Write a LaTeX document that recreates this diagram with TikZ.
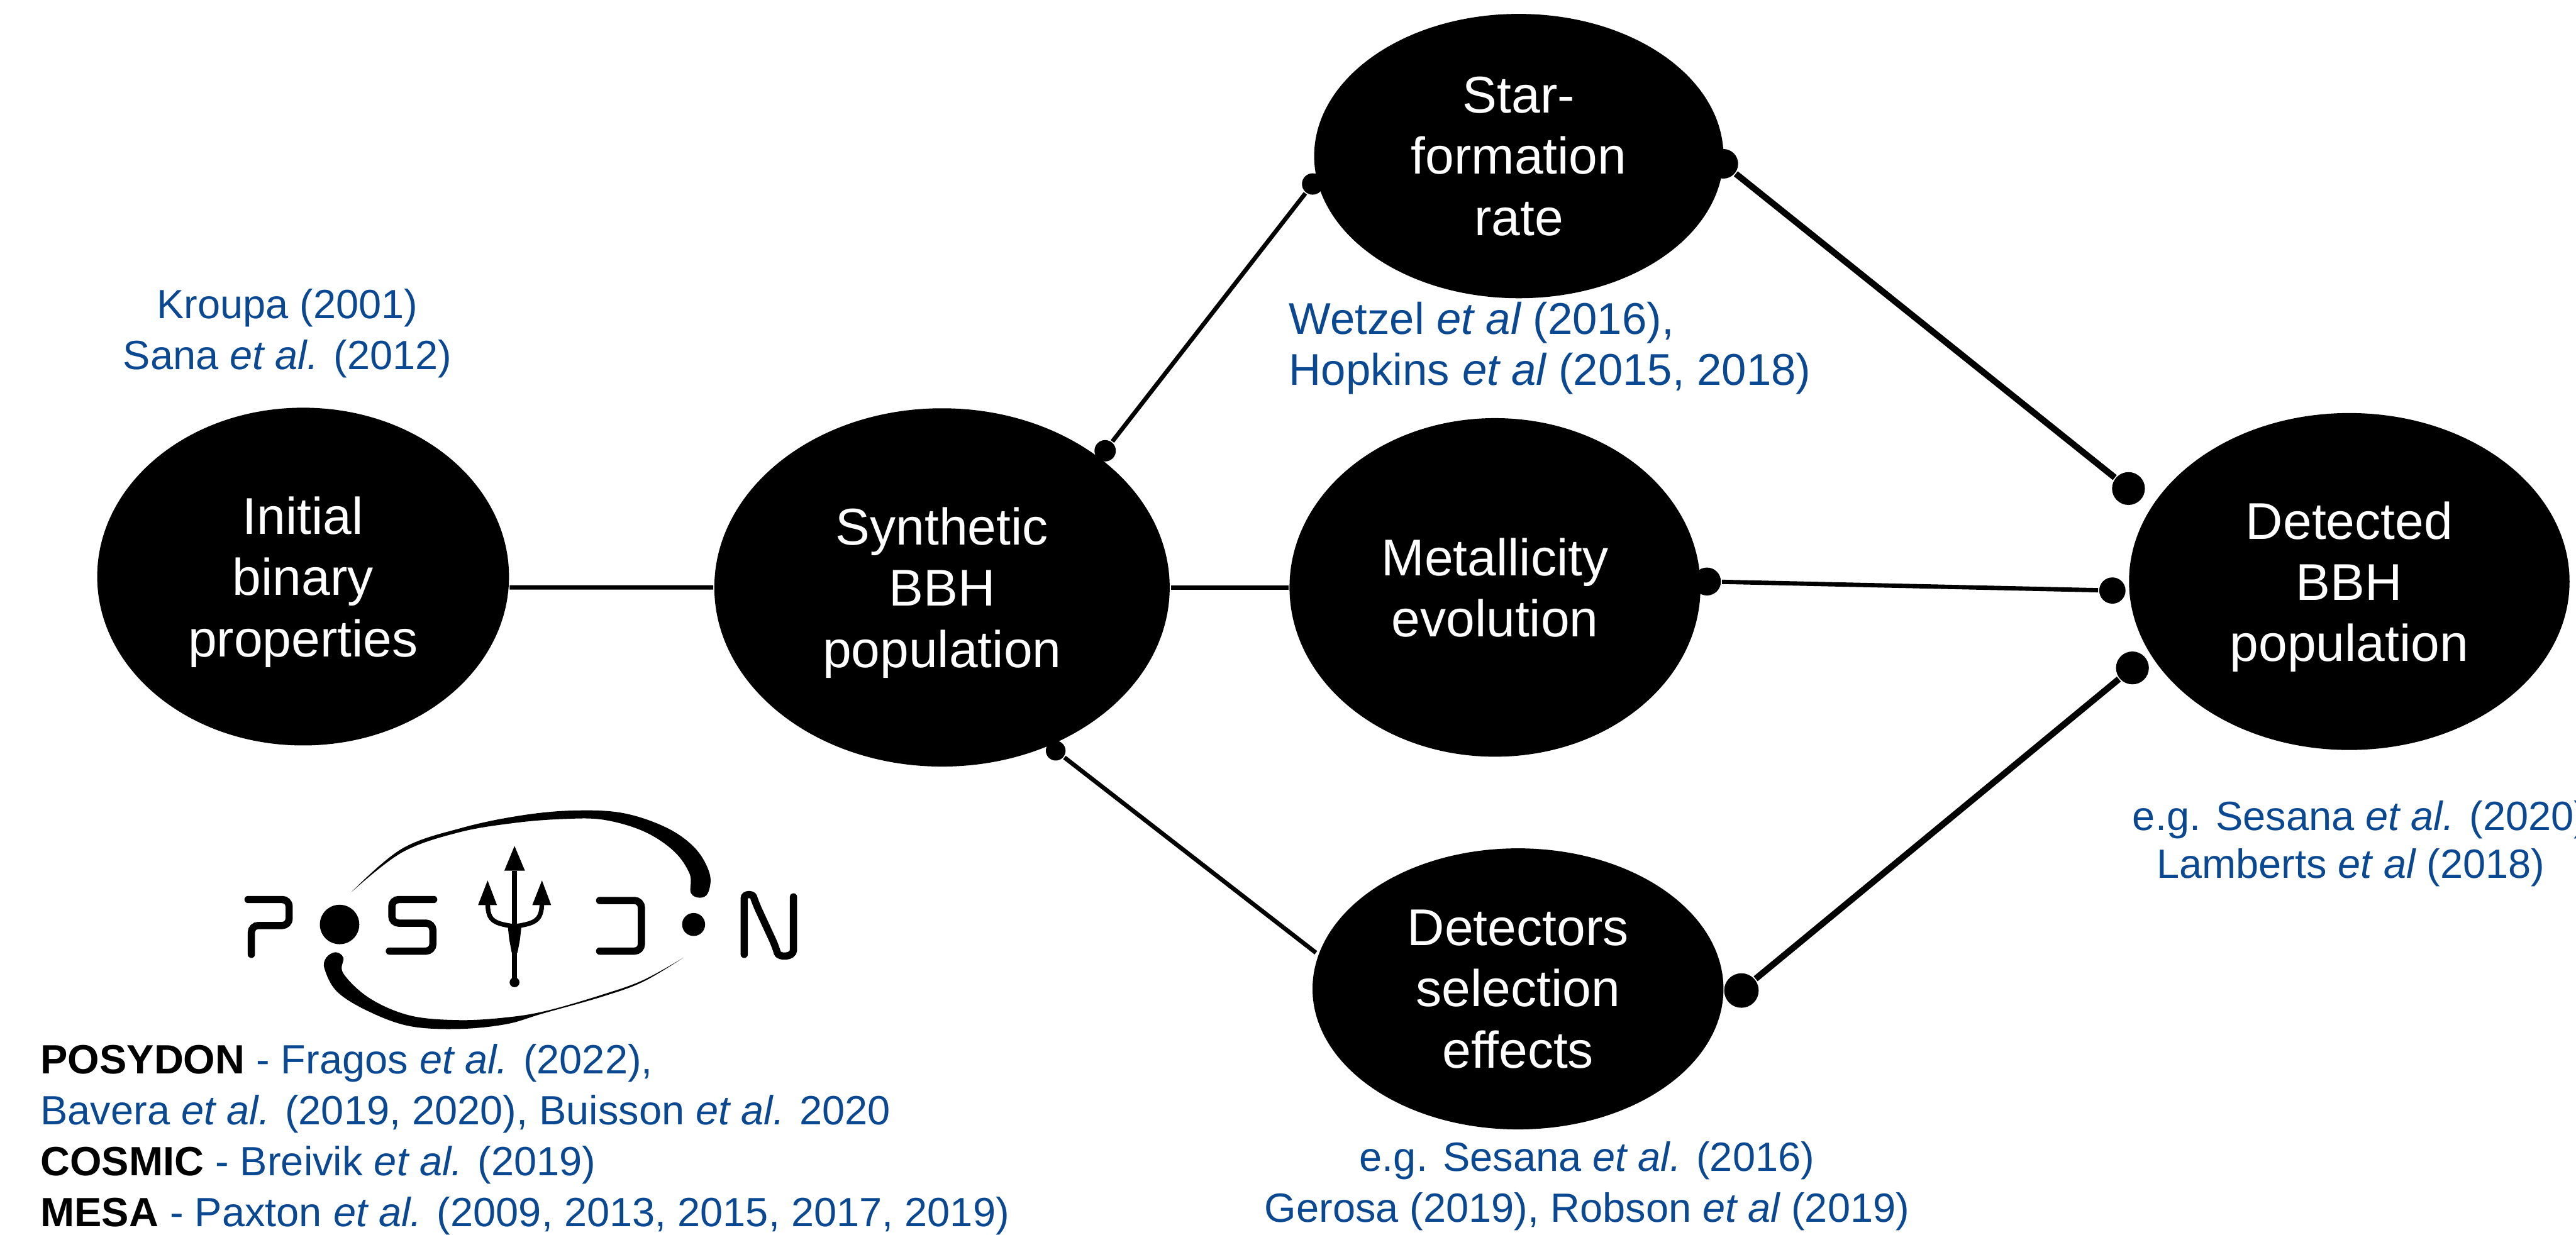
\documentclass[tikz,border=0pt]{standalone}
\usepackage{xcolor}
\usepackage{fontspec}
\setmainfont{Liberation Sans}
\usetikzlibrary{shapes.geometric, arrows.meta, positioning}
\definecolor{citeblue}{RGB}{10,72,145}

\begin{document}
\begin{tikzpicture}[
    x=0.01cm, y=-0.01cm,
    stage/.style={ellipse, fill=black, text=white, inner sep=0pt, align=center, text depth=0pt, font=\fontsize{8.95}{10.6}\selectfont},
    cite/.style={text=citeblue, inner sep=0pt, font=\fontsize{7.07}{8.8}\selectfont},
    link/.style={draw=black, line width=0.75pt},
    heavylink/.style={draw=black, line width=1.1pt},
    dot/.style={circle, fill=black, inner sep=0pt, minimum size=#1*0.01cm},
    logoline/.style={line width=1.25pt, line cap=round, rounded corners=1.2pt}
]
    \useasboundingbox (0,0) rectangle (1568,751.7);

    % Stages
    \node[stage, minimum width=2.505cm, minimum height=2.055cm] (initial) at (184.5,351) {Initial\\binary\\properties};
    \node[stage, minimum width=2.77cm, minimum height=2.18cm] (synthetic) at (573.4,357.6) {Synthetic\\BBH\\population};
    \node[stage, minimum width=2.49cm, minimum height=1.73cm] (sfr) at (924.5,95) {Star-\\formation\\rate};
    \node[stage, minimum width=2.5cm, minimum height=2.06cm] (metal) at (910,357.6) {Metallicity\\evolution};
    \node[stage, minimum width=2.5cm, minimum height=1.71cm] (selection) at (924,602) {Detectors\\selection\\effects};
    \node[stage, minimum width=2.68cm, minimum height=2.05cm] (detected) at (1430,354) {Detected\\BBH\\population};

    % Connector ends
    \node[dot=13] (synthUp) at (672.7,274.4) {};
    \node[dot=13] (sfrIn) at (799,112) {};
    \node[dot=18] (sfrOut) at (1049,99.7) {};
    \node[dot=20] (detTop) at (1295.6,297.4) {};
    \node[dot=17] (metalOut) at (1039,354) {};
    \node[dot=16] (detMid) at (1285.8,359.5) {};
    \node[dot=21] (selOut) at (1060,603) {};
    \node[dot=20] (detLow) at (1298,406.6) {};
    \node[dot=12] (synthLow) at (642.6,457) {};
    \coordinate (selIn) at (801,580);

    % Connectors
    \draw[link] (initial.-3) -- (synthetic.west);
    \draw[link] (synthetic.east) -- (metal.west);
    \draw[link] (synthUp) -- (sfrIn);
    \draw[link] (synthLow) -- (selIn);
    \draw[heavylink] (sfrOut) -- (detTop);
    \draw[link] (metalOut) -- (detMid);
    \draw[heavylink] (selOut) -- (detLow);

    % References
    \node[cite, align=center] (initcite) at (175,203) {Kroupa (2001)\\Sana {\itshape et al.} (2012)};
    \node[cite, align=left, anchor=west, font=\fontsize{7.7}{8.9}\selectfont] (sfrcite) at (784,212) {Wetzel {\itshape et al} (2016),\\Hopkins {\itshape et al} (2015, 2018)};
    \node[cite, align=center] (selcite) at (966,722) {e.g. Sesana {\itshape et al.} (2016)\\Gerosa (2019), Robson {\itshape et al} (2019)};
    \node[cite, anchor=west] (detcite1) at (1297.4,499) {e.g. Sesana {\itshape et al.} (2020)};
    \node[cite, anchor=west] (detcite2) at (1312,528) {Lamberts {\itshape et al} (2018)};
    \node[cite, anchor=west] (codes) at (24,694) {\begin{tabular}{@{}l@{}}
        \textcolor{black}{\textbf{POSYDON}} - Fragos {\itshape et al.} (2022),\\
        Bavera {\itshape et al.} (2019, 2020), Buisson {\itshape et al.} 2020\\
        \textcolor{black}{\textbf{COSMIC}} - Breivik {\itshape et al.} (2019)\\
        \textcolor{black}{\textbf{MESA}} - Paxton {\itshape et al.} (2009, 2013, 2015, 2017, 2019)
    \end{tabular}};

    % Logo orbit
    \fill plot[smooth, tension=0.6] coordinates {(214,543) (244.6,516.7) (281.4,503.9) (318,496.3) (350,493.4) (379.4,495) (406,504) (423.4,516.7) (432,532) (431,543.5) (426,546.5) (420.5,543.5) (419.8,532) (410,518) (391.6,506) (367,499) (342.6,498.6) (313,501) (279,506.8) (244.6,519) (214,543)};
    \fill plot[smooth, tension=0.6] coordinates {(416,583) (391.6,597.6) (367,606.6) (330.4,617) (308,623.5) (279,626.4) (249.5,624.7) (225,616) (205.5,604) (197.6,590) (198.6,583) (204.2,579.7) (209,583) (209,592.6) (225,607.7) (249.5,618.2) (279,621) (308,619.4) (332.8,615.3) (367,605.4) (391.6,596.6) (416,583)};

    % Logo letters
    \draw[logoline] (151,547.6) -- (176,547.6) -- (176,563.4) -- (153,563.4) -- (153,581);
    \fill (206.7,562.8) circle (12);
    \draw[logoline] (264,547.6) -- (238.5,547.6) -- (238.5,562) -- (263.5,562) -- (263.5,579) -- (237,579);
    \draw[logoline] (365,548.2) -- (390.4,548.2) -- (390.4,579) -- (365,579);
    \fill (422.2,562.8) circle (7);
    \draw[logoline] (453,581) -- (453,551) .. controls (453,544) and (458,544) .. (460,550) -- (472,576) .. controls (474,583) and (483,583) .. (483,574) -- (483,546);

    % Trident
    \draw[line width=0.8pt] (313.2,530) -- (313.2,598);
    \fill (313.2,598) circle (3);
    \fill (309,563) -- (317.5,563) -- (316.5,572) -- (315,580) -- (311.5,580) -- (310,572) -- cycle;
    \fill (313.2,515) -- (319.5,530) -- (307,530) -- cycle;
    \draw[line width=0.8pt] (313.2,564) .. controls (299,562) and (296.8,560) .. (296.8,548);
    \draw[line width=0.8pt] (313.2,564) .. controls (327,562) and (329.9,560) .. (329.9,548);
    \fill (296.8,536) -- (302.5,551) -- (291,551) -- cycle;
    \fill (329.9,536) -- (335.5,551) -- (324,551) -- cycle;
\end{tikzpicture}
\end{document}
